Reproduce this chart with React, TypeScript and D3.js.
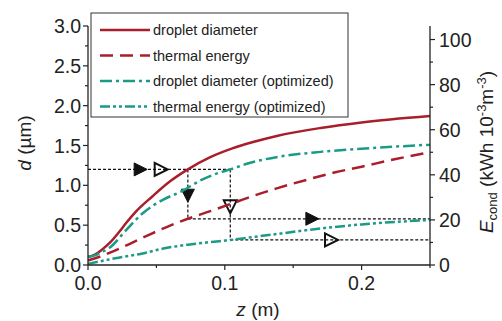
import React from "react";
import * as d3 from "d3";

// droplet diameter (left axis, µm)
const zDiam = [0, 0.005, 0.01, 0.016, 0.023, 0.028, 0.035, 0.047, 0.06, 0.073, 0.089, 0.105, 0.12, 0.138, 0.17, 0.2, 0.25];
const diam = [0.1, 0.13, 0.19, 0.28, 0.42, 0.53, 0.67, 0.86, 1.05, 1.2, 1.35, 1.46, 1.54, 1.62, 1.72, 1.79, 1.87];
// thermal energy (right axis)
const zEnergy = [0, 0.01, 0.02, 0.031, 0.045, 0.06, 0.073, 0.09, 0.104, 0.12, 0.138, 0.16, 0.18, 0.2, 0.225, 0.25];
const energy = [2, 4, 6.5, 9.5, 13.5, 17.5, 20.5, 24, 27, 30.5, 34, 37.8, 41, 43.6, 47, 50];
// droplet diameter optimized
const zDiamOpt = [0, 0.005, 0.01, 0.016, 0.028, 0.04, 0.055, 0.069, 0.082, 0.096, 0.104, 0.118, 0.14, 0.17, 0.2, 0.25];
const diamOpt = [0.1, 0.12, 0.16, 0.22, 0.44, 0.65, 0.82, 0.93, 1.06, 1.16, 1.2, 1.28, 1.36, 1.42, 1.46, 1.51];
// thermal energy optimized
const zEnergyOpt = [0, 0.02, 0.039, 0.055, 0.073, 0.09, 0.104, 0.118, 0.14, 0.167, 0.2, 0.25];
const energyOpt = [0.5, 3, 5, 7.3, 9, 10.2, 11.1, 12.2, 13.9, 16, 18, 20];

const legendLabels = ["droplet diameter", "thermal energy", "droplet diameter (optimized)", "thermal energy (optimized)"];
const xTicks = [0, 0.1, 0.2];
const xMinor = [0.05, 0.15, 0.25];
const leftTicks = [0, 0.5, 1, 1.5, 2, 2.5, 3];
const leftMinor = [0.25, 0.75, 1.25, 1.75, 2.25, 2.75];
const rightTicks = [0, 20, 40, 60, 80, 100];
const rightMinor = [10, 30, 50, 70, 90];

// guide lines: target diameter, crossing positions, energies reached
const dTarget = 1.2;
const zCross = [0.073, 0.104];
const eCross = [20.5, 11.1];

const RED = "#a81f2b";
const GREEN = "#1b9b86";
const FONT = "'Liberation Sans', Arial, sans-serif";

export default function App() {
  const W = 502, H = 321;
  const x = d3.scaleLinear().domain([0, 0.25]).range([88, 430]);
  const yL = d3.scaleLinear().domain([0, 3]).range([265, 26]);
  const yR = d3.scaleLinear().domain([0, 106]).range([265, 26]);

  const lineL = d3.line<[number, number]>().x(d => x(d[0])).y(d => yL(d[1])).curve(d3.curveMonotoneX);
  const lineR = d3.line<[number, number]>().x(d => x(d[0])).y(d => yR(d[1])).curve(d3.curveMonotoneX);
  const zip = (a: number[], b: number[]) => a.map((v, i) => [v, b[i]] as [number, number]);

  const series = [
    { d: lineL(zip(zDiam, diam)), color: RED, dash: "" },
    { d: lineR(zip(zEnergy, energy)), color: RED, dash: "13,7" },
    { d: lineL(zip(zDiamOpt, diamOpt)), color: GREEN, dash: "12,4,3,4" },
    { d: lineR(zip(zEnergyOpt, energyOpt)), color: GREEN, dash: "10,3,3,3,3,3" },
  ];

  const yT = yL(dTarget);
  const dot = { stroke: "#111", strokeWidth: 1.2, strokeDasharray: "3,2", fill: "none" };

  const tri = (cx: number, cy: number, dir: "r" | "d", filled: boolean) => {
    const s = 6.5;
    const p = dir === "r"
      ? `M${cx - s},${cy - s}L${cx + s},${cy}L${cx - s},${cy + s}Z`
      : `M${cx - s},${cy - s}L${cx + s},${cy - s}L${cx},${cy + s}Z`;
    return <path d={p} fill={filled ? "#111" : "white"} fillOpacity={filled ? 1 : 0} stroke="#111" strokeWidth={filled ? 1 : 2} strokeLinejoin="miter" />;
  };

  return (
    <svg width={W} height={H} style={{ position: "absolute", left: 0, top: 0 }} fontFamily={FONT}>
      <rect width={W} height={H} fill="white" />

      {/* guide lines */}
      <line x1={x(0)} x2={x(zCross[1])} y1={yT} y2={yT} style={dot} />
      <line x1={x(zCross[0])} x2={x(zCross[0])} y1={yT} y2={yR(eCross[0])} style={dot} />
      <line x1={x(zCross[1])} x2={x(zCross[1])} y1={yT} y2={yR(eCross[1])} style={dot} />
      <line x1={x(zCross[0])} x2={x(0.25)} y1={yR(eCross[0])} y2={yR(eCross[0])} style={dot} />
      <line x1={x(zCross[1])} x2={x(0.25)} y1={yR(eCross[1])} y2={yR(eCross[1])} style={dot} />

      {tri(x(0.0385), yT, "r", true)}
      {tri(x(0.0535), yT, "r", false)}
      {tri(x(zCross[0]), yL(0.87), "d", true)}
      {tri(x(zCross[1]), yL(0.73), "d", false)}
      {tri(x(0.164), yR(eCross[0]), "r", true)}
      {tri(x(0.178), yR(eCross[1]), "r", false)}

      {series.map((s, i) => (
        <path key={i} d={s.d || ""} fill="none" stroke={s.color} strokeWidth={2.5} strokeDasharray={s.dash} />
      ))}

      {/* axes */}
      <line x1={88} x2={88} y1={26} y2={265} stroke="#222" strokeWidth={1.3} />
      <line x1={430} x2={430} y1={26} y2={265} stroke="#222" strokeWidth={1.3} />
      <line x1={88} x2={430} y1={265} y2={265} stroke="#222" strokeWidth={1.3} />

      {leftTicks.map(t => (
        <g key={"l" + t}>
          <line x1={83} x2={88} y1={yL(t)} y2={yL(t)} stroke="#222" strokeWidth={1.2} />
          <text x={81} y={yL(t)} dy="0.36em" textAnchor="end" fontSize={19.5} fill="#222">{t.toFixed(1)}</text>
        </g>
      ))}
      {leftMinor.map(t => <line key={"lm" + t} x1={85} x2={88} y1={yL(t)} y2={yL(t)} stroke="#222" strokeWidth={1.2} />)}

      {rightTicks.map(t => (
        <g key={"r" + t}>
          <line x1={430} x2={435} y1={yR(t)} y2={yR(t)} stroke="#222" strokeWidth={1.2} />
          <text x={439} y={yR(t)} dy="0.36em" fontSize={19.5} fill="#222">{t}</text>
        </g>
      ))}
      {rightMinor.map(t => <line key={"rm" + t} x1={430} x2={433} y1={yR(t)} y2={yR(t)} stroke="#222" strokeWidth={1.2} />)}

      {xTicks.map(t => (
        <g key={"x" + t}>
          <line x1={x(t)} x2={x(t)} y1={265} y2={270} stroke="#222" strokeWidth={1.2} />
          <text x={x(t)} y={290} textAnchor="middle" fontSize={19.5} fill="#222">{t.toFixed(1)}</text>
        </g>
      ))}
      {xMinor.map(t => <line key={"xm" + t} x1={x(t)} x2={x(t)} y1={265} y2={268} stroke="#222" strokeWidth={1.2} />)}

      {/* axis titles */}
      <text x={258} y={316} textAnchor="middle" fontSize={19} fill="#222">
        <tspan fontStyle="italic">z</tspan> (m)
      </text>
      <text transform="translate(31,143) rotate(-90)" textAnchor="middle" fontSize={19} fill="#222">
        <tspan fontStyle="italic">d</tspan> (µm)
      </text>
      <text transform="translate(493,152) rotate(-90)" textAnchor="middle" fontSize={19} fill="#222">
        <tspan fontStyle="italic">E</tspan>
        <tspan fontSize={13} dy={4}>cond</tspan>
        <tspan dy={-4}> (kWh 10</tspan>
        <tspan fontSize={13} dy={-7}>-3</tspan>
        <tspan dy={7}>m</tspan>
        <tspan fontSize={13} dy={-7}>-3</tspan>
        <tspan dy={7}>)</tspan>
      </text>

      {/* legend */}
      <rect x={91} y={13} width={257} height={104} fill="white" stroke="#333" strokeWidth={1} />
      {legendLabels.map((lab, i) => {
        const ly = 30 + i * 25.5;
        const s = series[i];
        return (
          <g key={lab}>
            <line x1={100} x2={150} y1={ly} y2={ly} stroke={s.color} strokeWidth={2.5} strokeDasharray={s.dash} />
            <text x={153} y={ly} dy="0.35em" fontSize={14.5} fill="#222">{lab}</text>
          </g>
        );
      })}
    </svg>
  );
}
